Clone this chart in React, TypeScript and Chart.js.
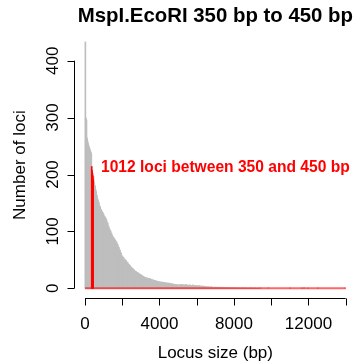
import React, { useEffect, useRef } from "react";
import { Chart, registerables } from "chart.js";

Chart.register(...registerables);

// Histogram of locus sizes: 20 bp bins starting at 10 bp
const binStart = 10;
const binWidth = 20;
const counts: number[] = [
  433, 300, 298, 295, 265, 262, 258, 255, 252, 250, 248, 246, 244, 242, 240, 238, 236,
  214, 207, 202, 198, 191,
  196, 188, 185, 181, 179, 174, 172, 169, 164, 163, 158, 156, 155, 150, 151, 146, 145, 141, 143, 138, 139, 136, 134,
  135, 131, 133, 128, 130, 126, 127, 122, 125, 121, 123, 118, 120, 116,
  113, 115, 110, 107, 108, 104, 102, 103, 99, 100, 96, 97, 94,
  93, 90, 91, 88, 89, 86, 87, 84, 85, 82, 83, 80, 81,
  78, 76, 77, 73, 71, 72, 68, 66, 67, 63, 61, 62, 58, 57,
  56, 55, 54, 53, 54, 51, 50, 51, 49, 48, 49, 47, 46,
  45, 44, 45, 42, 41, 42, 40, 39, 40, 38, 37,
  36, 37, 35, 34, 35, 33, 32, 33, 31, 31, 30,
  30, 29, 30, 28, 27, 28, 27, 26, 27, 25, 26, 25, 24,
  24, 23, 24, 22, 23, 21, 22, 20, 21, 20, 19, 20, 19,
  19, 18, 19, 18, 17, 18, 17, 18, 17, 16, 17, 17, 16, 17,
  16, 15, 16, 15, 15, 14, 15, 14, 15, 14, 13, 14, 14,
  13, 12, 13, 12, 13, 11, 12, 12, 11, 12, 11, 11, 11,
  11, 10, 11, 10, 11, 10, 10, 11, 10, 9, 10, 10, 9, 10,
  9, 10, 9, 9, 8, 9, 9, 8, 9, 8, 9, 8, 9,
  8, 7, 8, 8, 7, 8, 7, 7, 8, 7, 6, 7, 7, 6,
  6, 7, 6, 5, 6, 6, 5, 6, 5, 6, 5, 5, 6,
  5, 6, 7, 5, 4, 6, 5, 7, 6, 5, 4, 5, 6, 5, 4, 6, 7, 5, 4, 5,
  5, 4, 6, 5, 3, 5, 4, 6, 5, 4, 5, 3, 4, 5, 4, 6, 4, 3, 5, 4,
  4, 3, 5, 4, 3, 4, 5, 3, 4, 3, 4, 3, 5, 3, 4, 3, 2, 4, 3, 3,
  4, 2, 3, 4, 3, 2, 3,
  3, 2, 3, 2, 1, 3, 2, 2, 1, 2, 3, 1, 2, 2, 1, 2, 1, 3, 2, 1,
  2, 1, 1, 2, 1, 2, 1, 0, 2, 1, 1, 2, 1, 1, 0, 2, 1, 1, 1, 0,
  1, 2, 1, 0, 1, 1, 0, 1, 2, 1, 0, 1, 1, 0, 1, 0, 1, 1, 0, 1,
  0, 1, 0, 1, 1, 0, 0, 1, 0, 1, 0, 0, 1, 0, 1, 0, 0, 1, 0, 0,
  1, 0, 0, 1, 0, 0, 0, 1, 0, 0, 1, 0, 0, 0, 1, 0, 0, 0, 0, 1,
  0, 0, 1, 0, 0, 0, 0, 1, 0, 0, 0, 0, 1, 0, 0, 0, 0, 0, 1, 0,
  0, 0, 0, 1, 0, 0, 0, 0, 0, 1, 0, 0, 0, 0, 0, 0, 1, 0, 0, 0,
  0, 0, 0, 0, 1, 0, 0,
];
// sparse single loci in the far tail (bp)
const tailLoci: number[] = [9450, 9850, 11010, 11650, 11770, 11970, 12510, 13970];

const rangeLow = 350;
const rangeHigh = 450;
const xTicks = [0, 2000, 4000, 6000, 8000, 10000, 12000, 14000];
const xTickLabels = [0, 4000, 8000, 12000];
const yTicks = [0, 100, 200, 300, 400];
const titleText = "MspI.EcoRI 350 bp to 450 bp";
const xTitle = "Locus size (bp)";
const yTitle = "Number of loci";
const annotation = "1012 loci between 350 and 450 bp";

const FONT = '"Liberation Sans", Arial, Helvetica, sans-serif';

export default function App() {
  const ref = useRef<HTMLCanvasElement>(null);
  useEffect(() => {
    const grayPts: { x: number; y: number }[] = [];
    const redPts: { x: number; y: number }[] = [];
    counts.forEach((c, i) => {
      const lo = binStart + i * binWidth;
      const pt = { x: lo + binWidth / 2, y: c };
      if (lo >= rangeLow && lo + binWidth <= rangeHigh) redPts.push(pt);
      else grayPts.push(pt);
    });
    tailLoci.forEach((bp) => grayPts.push({ x: bp, y: 1 }));

    const axesPlugin = {
      id: "rAxes",
      afterDraw(chart: any) {
        const ctx = chart.ctx;
        const xs = chart.scales.x;
        const ys = chart.scales.y;
        ctx.save();
        ctx.strokeStyle = "#000";
        ctx.fillStyle = "#000";
        ctx.lineWidth = 1;
        // x axis
        const ax = Math.round(ys.getPixelForValue(-17.3)) + 0.5;
        ctx.beginPath();
        ctx.moveTo(xs.getPixelForValue(xTicks[0]), ax);
        ctx.lineTo(xs.getPixelForValue(xTicks[xTicks.length - 1]), ax);
        xTicks.forEach((t) => {
          const px = Math.round(xs.getPixelForValue(t)) + 0.5;
          ctx.moveTo(px, ax);
          ctx.lineTo(px, ax + 7);
        });
        ctx.stroke();
        ctx.font = `17px ${FONT}`;
        ctx.textAlign = "center";
        ctx.textBaseline = "alphabetic";
        xTickLabels.forEach((t) => {
          ctx.fillText(String(t), xs.getPixelForValue(t), ax + 30);
        });
        // y axis
        const ay = Math.round(xs.getPixelForValue(-560)) - 0.5;
        ctx.beginPath();
        ctx.moveTo(ay, ys.getPixelForValue(yTicks[0]));
        ctx.lineTo(ay, ys.getPixelForValue(yTicks[yTicks.length - 1]));
        yTicks.forEach((t) => {
          const py = Math.round(ys.getPixelForValue(t)) + 0.5;
          ctx.moveTo(ay, py);
          ctx.lineTo(ay - 7, py);
        });
        ctx.stroke();
        yTicks.forEach((t) => {
          ctx.save();
          ctx.translate(57.5, ys.getPixelForValue(t));
          ctx.rotate(-Math.PI / 2);
          ctx.fillText(String(t), 0, 0);
          ctx.restore();
        });
        // axis titles
        const midX = (xs.getPixelForValue(-560) + xs.getPixelForValue(14560)) / 2;
        const midY = (ys.getPixelForValue(-17.3) + ys.getPixelForValue(450.3)) / 2;
        ctx.fillText(xTitle, midX, 358);
        ctx.save();
        ctx.translate(24.5, midY);
        ctx.rotate(-Math.PI / 2);
        ctx.fillText(yTitle, 0, 0);
        ctx.restore();
        // main title
        ctx.font = `bold 20.4px ${FONT}`;
        ctx.fillText(titleText, midX, 22);
        // annotation
        ctx.fillStyle = "#ff0000";
        ctx.font = `bold 15.6px ${FONT}`;
        ctx.textAlign = "left";
        ctx.fillText(annotation, 101, 171.5);
        ctx.restore();
      },
    };

    const chart = new Chart(ref.current!, {
      type: "bar",
      data: {
        datasets: [
          {
            type: "line",
            data: [
              { x: 0, y: 0 },
              { x: 14000, y: 0 },
            ],
            borderColor: "rgba(255,0,0,0.6)",
            borderWidth: 2,
            pointRadius: 0,
            clip: false,
          } as any,
          {
            data: redPts,
            backgroundColor: "#ff0000",
            borderWidth: 0,
            barThickness: 1,
            grouped: false,
            clip: false,
          } as any,
          {
            data: grayPts,
            backgroundColor: "#bebebe",
            borderWidth: 0,
            barThickness: 1,
            grouped: false,
            clip: false,
          } as any,
        ],
      },
      options: {
        animation: false,
        responsive: false,
        devicePixelRatio: 1,
        events: [],
        layout: { padding: { left: 85, right: 11.3, top: 32.25, bottom: 74.7 } },
        plugins: { legend: { display: false }, tooltip: { enabled: false }, title: { display: false } },
        scales: {
          x: { type: "linear", min: 0, max: 14000, display: false, offset: false },
          y: { type: "linear", min: 0, max: 450, display: false },
        },
      },
      plugins: [axesPlugin],
    });
    return () => chart.destroy();
  }, []);
  return (
    <div style={{ position: "fixed", left: 0, top: 0, width: 357, height: 363, background: "#fff" }}>
      <canvas ref={ref} width={357} height={363} style={{ width: 357, height: 363 }} />
    </div>
  );
}
